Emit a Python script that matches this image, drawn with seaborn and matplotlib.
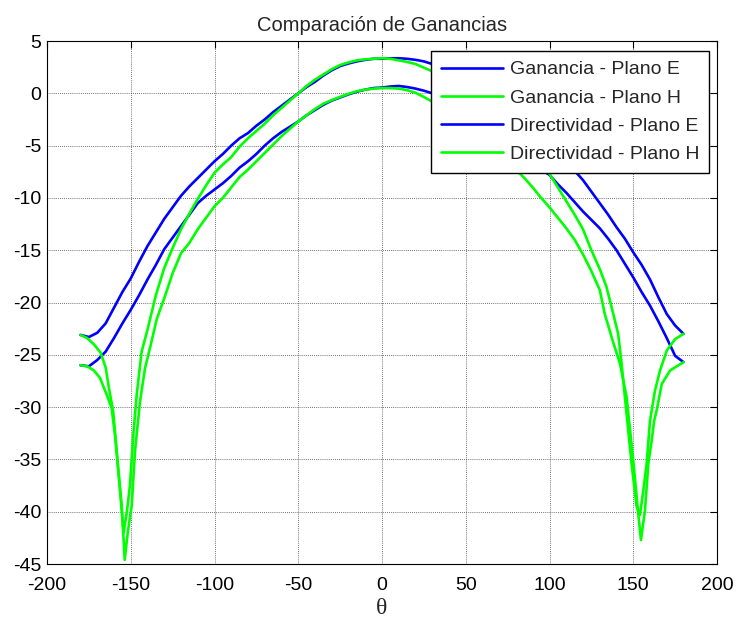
import numpy as np
import pandas as pd
import matplotlib
matplotlib.use("Agg")
import matplotlib.pyplot as plt
import seaborn as sns

# ---------------- data ----------------
theta_smooth = [-180, -175, -170, -165, -160, -155, -150, -145, -140, -135, -130, -125,
                -120, -115, -110, -105, -100, -95, -90, -85, -80, -75, -70, -65, -60,
                -55, -50, -45, -40, -35, -30, -25, -20, -15, -10, -5, 0, 5, 10, 15, 20,
                25, 30, 35, 40, 45, 50, 55, 60, 65, 70, 75, 80, 85, 90, 95, 100, 105,
                110, 115, 120, 125, 130, 135, 140, 145, 150, 155, 160, 165, 170, 175, 180]

gan_e = [-26.0, -26.1, -25.5, -24.7, -23.4, -22.0, -20.7, -19.3, -17.8, -16.4, -14.9, -13.8,
         -12.7, -11.6, -10.5, -9.8, -9.2, -8.6, -7.9, -7.1, -6.5, -5.8, -5.0, -4.3, -3.7,
         -3.2, -2.7, -2.1, -1.6, -1.1, -0.7, -0.4, -0.1, 0.15, 0.35, 0.5, 0.55, 0.65, 0.7,
         0.6, 0.45, 0.25, 0.0, -0.4, -0.8, -1.3, -1.8, -2.4, -3.0, -3.6, -4.3, -4.9, -5.6,
         -6.2, -6.8, -7.3, -7.8, -8.7, -9.5, -10.4, -11.3, -12.1, -12.9, -13.9, -15.0,
         -16.3, -17.6, -19.0, -20.3, -21.8, -23.4, -25.1, -25.7]

dir_e = [-23.1, -23.3, -22.9, -22.0, -20.5, -19.0, -17.7, -16.1, -14.6, -13.3, -12.0, -10.9,
         -9.8, -8.9, -8.1, -7.3, -6.5, -5.8, -5.0, -4.3, -3.8, -3.1, -2.5, -1.8, -1.2,
         -0.6, 0.0, 0.6, 1.1, 1.7, 2.2, 2.6, 2.85, 3.05, 3.2, 3.3, 3.3, 3.35, 3.35, 3.3,
         3.2, 3.05, 2.8, 2.4, 2.0, 1.5, 1.0, 0.4, -0.2, -0.9, -1.6, -2.3, -3.0, -3.7,
         -4.4, -5.1, -5.7, -6.3, -6.9, -7.4, -8.3, -9.4, -10.5, -11.6, -12.8, -13.9,
         -15.2, -16.4, -17.8, -19.5, -21.1, -22.2, -23.0]

theta_gan_h = [-180, -176, -172, -168.4, -164.4, -161.4, -159.4, -157.5, -155.4, -153.6,
               -151.8, -149.4, -147.5, -144.5, -141.5, -138, -134.5, -132.5, -130, -125,
               -120, -115, -110, -105, -100, -95, -90, -85, -80, -75, -70, -65, -60, -55,
               -50, -45, -40, -35, -30, -25, -20, -15, -10, -5, 0, 5, 10, 15, 20, 25, 30,
               35, 40, 45, 50, 55, 60, 65, 70, 75, 80, 85, 90, 95, 100, 105, 110, 115, 120,
               125, 130, 133, 138, 142, 146, 150, 153, 154.6, 157, 159, 161, 162.5, 164,
               167, 172, 176, 180]
gan_h = [-26.0, -26.1, -26.5, -27.2, -28.8, -30.1, -32.7, -35.9, -39.4, -44.6,
         -42.0, -39.4, -34.3, -29.5, -26.3, -24.0, -21.6, -20.7, -19.6, -17.2,
         -15.3, -14.3, -13.0, -11.9, -10.8, -10.0, -9.0, -8.0, -7.3, -6.5, -5.7, -4.9,
         -4.1, -3.4, -2.7, -2.1, -1.5, -1.0, -0.65, -0.35, -0.05, 0.2, 0.35, 0.45, 0.5,
         0.5, 0.45, 0.3, 0.05, -0.35, -0.8, -1.3, -1.9, -2.5, -3.1, -3.8, -4.5, -5.2,
         -5.9, -6.6, -7.3, -8.1, -9.0, -10.0, -10.9, -11.9, -12.9, -14.0, -15.4, -17.0,
         -18.8, -21.1, -23.8, -25.8, -29.0, -35.1, -40.2, -42.7, -39.9, -35.4, -33.2,
         -31.3, -30.3, -27.8, -26.5, -26.1, -25.7]

theta_dir_h = [-180, -176, -172, -168, -165, -163, -160.5, -158.5, -156.5, -154.3, -152.3,
               -150.5, -148.5, -146.5, -143.5, -140, -138.5, -135, -130, -125, -120, -115,
               -110, -105, -100, -95, -90, -85, -80, -75, -70, -65, -60, -55, -50, -45,
               -40, -35, -30, -25, -20, -15, -10, -5, 0, 5, 10, 15, 20, 25, 30, 35, 40, 45,
               50, 55, 60, 65, 70, 75, 80, 85, 90, 95, 100, 105, 110, 115, 120, 125, 130,
               134, 137, 141, 143, 146, 149, 152, 154, 156, 158, 160, 163, 166, 170, 175, 180]
dir_h = [-23.1, -23.4, -24.0, -24.8, -26.2, -28.2, -30.4, -34.0, -37.8, -42.0, -40.0,
         -37.5, -32.7, -28.9, -24.7, -22.6, -21.6, -19.3, -16.7, -14.8, -13.0, -11.5,
         -10.1, -8.8, -7.6, -6.8, -6.1, -5.1, -4.3, -3.6, -2.9, -2.1, -1.4, -0.7, 0.0,
         0.7, 1.3, 1.8, 2.3, 2.7, 2.95, 3.15, 3.25, 3.3, 3.35, 3.3, 3.15, 3.0, 2.8, 2.45,
         2.1, 1.6, 1.1, 0.5, -0.1, -0.8, -1.5, -2.3, -3.1, -3.9, -4.8, -5.6, -6.4, -7.1,
         -7.7, -9.0, -10.3, -11.6, -13.0, -15.0, -16.8, -18.5, -20.4, -23.0, -25.8,
         -30.6, -35.4, -39.5, -40.3, -38.0, -35.4, -31.3, -28.4, -26.5, -24.6, -23.5, -23.0]

series_labels = ["Ganancia - Plano E", "Ganancia - Plano H",
                 "Directividad - Plano E", "Directividad - Plano H"]
x_ticks = [-200, -150, -100, -50, 0, 50, 100, 150, 200]
y_ticks = [5, 0, -5, -10, -15, -20, -25, -30, -35, -40, -45]

BLUE = "#0000ff"
GREEN = "#00ff00"

# ---------------- figure ----------------
sns.set_style("white")
plt.rcParams["font.family"] = ["Liberation Sans", "DejaVu Sans"]
plt.rcParams["axes.unicode_minus"] = False

fig = plt.figure(figsize=(7.37, 6.23), dpi=100)
ax = fig.add_axes([47 / 737, 1 - 564 / 623, 670 / 737, 523 / 623])

series = [
    (theta_smooth, gan_e, BLUE, series_labels[0]),
    (theta_gan_h, gan_h, GREEN, series_labels[1]),
    (theta_smooth, dir_e, BLUE, series_labels[2]),
    (theta_dir_h, dir_h, GREEN, series_labels[3]),
]
for xs, ys, col, lab in series:
    df = pd.DataFrame({"theta": xs, "val": ys})
    sns.lineplot(data=df, x="theta", y="val", ax=ax, color=col, linewidth=1.9,
                 label=lab, estimator=None, sort=False)

ax.set_xlim(-200, 200)
ax.set_ylim(-45, 5)
ax.set_xticks(x_ticks)
ax.set_yticks(y_ticks)
ax.tick_params(direction="in", top=True, right=True, length=5, width=0.8,
               labelsize=14, colors="black")
ax.tick_params(axis="x", pad=9)
ax.tick_params(axis="y", pad=4)
ax.grid(True, linestyle=(0, (1, 1.5)), color="#444444", linewidth=0.6)
for s in ax.spines.values():
    s.set_color("black")
    s.set_linewidth(0.8)
    s.set_visible(True)

ax.set_xlabel("θ", family=["Liberation Serif", "DejaVu Serif"], fontsize=17, labelpad=3)
ax.set_ylabel("")
ax.set_title("Comparación de Ganancias", fontsize=14.5, pad=7)

leg = ax.legend(loc="upper right", bbox_to_anchor=(709 / 737, 1 - 51 / 623),
                bbox_transform=fig.transFigure, borderaxespad=0, fontsize=14,
                frameon=True, fancybox=False, framealpha=1, edgecolor="black",
                handlelength=3.2, handletextpad=0.35, labelspacing=0.55,
                borderpad=0.5)
leg.get_frame().set_linewidth(1.0)

fig.savefig("out.png", dpi=100)
